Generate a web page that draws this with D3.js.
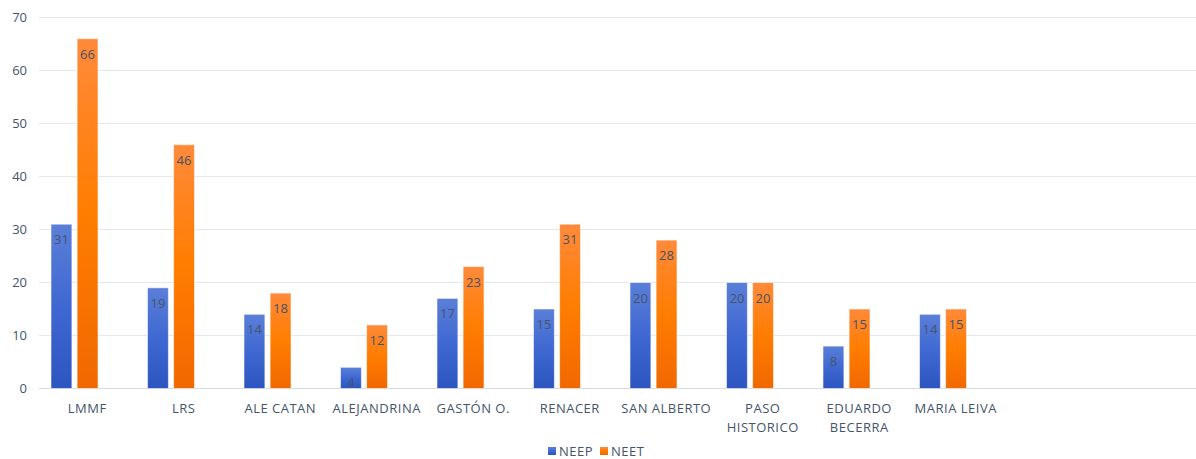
<!DOCTYPE html>
<html>
<head>
<meta charset="utf-8">
<script src="https://cdn.jsdelivr.net/npm/d3@7"></script>
<style>
  body { margin: 0; background: #fff; }
  svg text { font-family: "Open Sans", "Liberation Sans", sans-serif; }
</style>
</head>
<body>
<svg id="chart" width="1196" height="459"></svg>
<script>
// data
var categories = ["LMMF", "LRS", "ALE CATAN", "ALEJANDRINA", "GASTÓN O.", "RENACER",
  "SAN ALBERTO", "PASO HISTORICO", "EDUARDO BECERRA", "MARIA LEIVA"];
var seriesNames = ["NEEP", "NEET"];
var neep = [31, 19, 14, 4, 17, 15, 20, 20, 8, 14];
var neet = [66, 46, 18, 12, 23, 31, 28, 20, 15, 15];
var yTicks = [0, 10, 20, 30, 40, 50, 60, 70];

var svg = d3.select("#chart");
var textColor = "#44546a";

var data = categories.map(function(c, i) {
  return { cat: c, NEEP: neep[i], NEET: neet[i] };
});

// gradients
var defs = svg.append("defs");
function grad(id, top, mid, bottom) {
  var g = defs.append("linearGradient").attr("id", id)
    .attr("x1", 0).attr("y1", 0).attr("x2", 0).attr("y2", 1);
  g.append("stop").attr("offset", "0%").attr("stop-color", top);
  g.append("stop").attr("offset", "50%").attr("stop-color", mid);
  g.append("stop").attr("offset", "100%").attr("stop-color", bottom);
}
grad("gNEEP", "#5b7fd8", "#3f68d2", "#2c55c0");
grad("gNEET", "#ff8a3a", "#ff7d00", "#f06800");

var y = d3.scaleLinear().domain([0, 70]).range([388.5, 17.5]);

var step = 96.5, p = 1 - 47 / 96.5;
var x0 = d3.scaleBand().domain(categories)
  .range([26.25, 26.25 + step * categories.length])
  .paddingInner(p).paddingOuter(p / 2);
var x1 = d3.scaleBand().domain(seriesNames)
  .range([0, x0.bandwidth()]).paddingInner(0.2);
// category labels sit in the full-width bands that start at the gridline
var xLab = d3.scaleBand().domain(categories)
  .range([39, 39 + step * categories.length]);

// gridlines
svg.append("g")
  .selectAll("line").data(yTicks).enter().append("line")
  .attr("x1", 39).attr("x2", 1196)
  .attr("y1", function(d) { return y(d); })
  .attr("y2", function(d) { return y(d); })
  .attr("stroke", function(d) { return d === 0 ? "#d5dbe5" : "#e3e7ee"; })
  .attr("stroke-width", 1.2);

// y axis labels
svg.append("g").attr("transform", "translate(27,0)")
  .call(d3.axisLeft(y).tickValues(yTicks).tickSize(0).tickPadding(0))
  .call(function(g) { g.select(".domain").remove(); })
  .selectAll("text")
  .attr("fill", textColor)
  .style("font-size", "13px");

// bars
var groups = svg.append("g").selectAll("g").data(data).enter().append("g")
  .attr("transform", function(d) { return "translate(" + x0(d.cat) + ",0)"; });

groups.selectAll("rect")
  .data(function(d) { return seriesNames.map(function(k) { return { key: k, value: d[k] }; }); })
  .enter().append("rect")
  .attr("x", function(d) { return x1(d.key); })
  .attr("y", function(d) { return y(d.value); })
  .attr("width", x1.bandwidth())
  .attr("height", function(d) { return y(0) - y(d.value); })
  .attr("fill", function(d) { return "url(#g" + d.key + ")"; })
  .attr("stroke", "rgba(255,255,255,0.55)")
  .attr("stroke-width", 1);

groups.selectAll("text.val")
  .data(function(d) { return seriesNames.map(function(k) { return { key: k, value: d[k] }; }); })
  .enter().append("text")
  .attr("class", "val")
  .attr("x", function(d) { return x1(d.key) + x1.bandwidth() / 2; })
  .attr("y", function(d) { return y(d.value) + 20; })
  .attr("text-anchor", "middle")
  .attr("fill", textColor)
  .style("font-size", "13px")
  .text(function(d) { return d.value; });

// x axis labels, wrapped like the original
var wrapped = {
  "PASO HISTORICO": ["PASO", "HISTORICO"],
  "EDUARDO BECERRA": ["EDUARDO", "BECERRA"]
};
var xl = svg.append("g").selectAll("text").data(categories).enter().append("text")
  .attr("x", function(d) { return xLab(d) + xLab.bandwidth() / 2; })
  .attr("y", 413)
  .attr("text-anchor", "middle")
  .attr("fill", textColor)
  .style("font-size", "13px")
  .style("letter-spacing", "0.5px");
xl.each(function(d) {
  var lines = wrapped[d] || [d];
  var t = d3.select(this);
  lines.forEach(function(l, i) {
    t.append("tspan").attr("x", xLab(d) + xLab.bandwidth() / 2)
      .attr("dy", i === 0 ? 0 : 19).text(l);
  });
});

// legend
var legend = svg.append("g").selectAll("g").data(seriesNames).enter().append("g")
  .attr("transform", function(d, i) { return "translate(" + (548 + i * 52) + ",447)"; });
legend.append("rect")
  .attr("width", 8).attr("height", 8)
  .attr("fill", function(d) { return "url(#g" + d + ")"; });
legend.append("text")
  .attr("x", 11).attr("y", 8.5)
  .attr("fill", textColor)
  .style("font-size", "13px")
  .style("letter-spacing", "0.5px")
  .text(function(d) { return d; });
</script>
</body>
</html>
